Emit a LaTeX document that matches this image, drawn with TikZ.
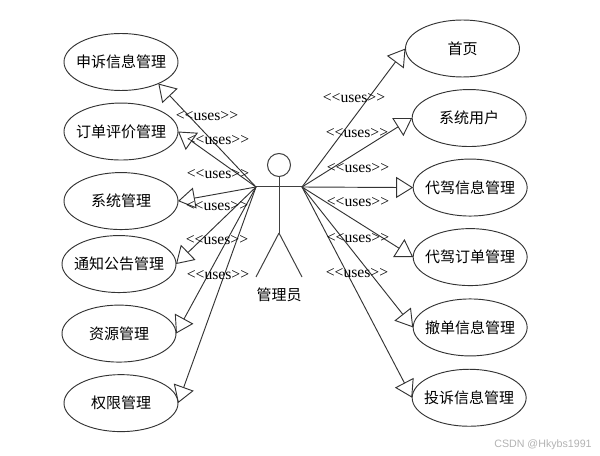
\documentclass[tikz,border=0pt]{standalone}
\usepackage{fontspec}
\newfontfamily\cjk{Noto Sans CJK SC}
\newfontfamily\stereofont{Liberation Serif}
\newfontfamily\markfont{Liberation Sans}
\usetikzlibrary{shapes.geometric, arrows.meta, positioning}
\newcommand{\casetext}[1]{\makebox[0pt]{#1}}
\tikzset{
    usecase/.style={draw=black!80, ellipse, line width=0.7pt, inner sep=0pt, outer sep=0pt, minimum width=85.5pt, minimum height=42.75pt, font=\cjk\fontsize{11.25}{13}\selectfont},
    actorline/.style={draw=black!75, line width=0.75pt},
    arrow/.style={-{Triangle[open, length=12.75pt, width=15.75pt]}, draw=black!80, line width=0.7pt},
    stereo/.style={font=\stereofont\fontsize{11.75}{13}\selectfont, inner sep=0pt},
    watermark/.style={font=\markfont\fontsize{8}{10}\selectfont, text=black!30, inner sep=0pt}
}

\begin{document}
\begin{tikzpicture}[x=0.75pt, y=-0.75pt, node distance=9.4pt]
    \useasboundingbox (0,0) rectangle (600,456);

    % left column
    \node (appeal) [usecase] at (121,62) {\casetext{申诉信息管理}};
    \node (review) [usecase, below=of appeal] {\casetext{订单评价管理}};
    \node (sysmgr) [usecase, below=of review] {\casetext{系统管理}};
    \node (notice) [usecase, below=4.5pt of sysmgr, xshift=-1.5pt] {\casetext{通知公告管理}};
    \node (resource) [usecase, below=of notice] {\casetext{资源管理}};
    \node (rights) [usecase, below=of resource, xshift=1.5pt] {\casetext{权限管理}};

    % right column
    \node (home) [usecase] at (462.5,48.5) {\casetext{首页}};
    \node (sysuser) [usecase, below=of home, xshift=5pt] {\casetext{系统用户}};
    \node (driveinfo) [usecase, below=of sysuser, xshift=0.75pt] {\casetext{代驾信息管理}};
    \node (driveorder) [usecase, below=of driveinfo] {\casetext{代驾订单管理}};
    \node (cancel) [usecase, below=10pt of driveorder] {\casetext{撤单信息管理}};
    \node (complaint) [usecase, below=10pt of cancel, xshift=-0.75pt] {\casetext{投诉信息管理}};

    % actor
    \node (head) [circle, actorline, minimum size=17.25pt, inner sep=0pt, outer sep=0pt] at (279,165) {};
    \coordinate (armL) at (256,187);
    \coordinate (armR) at (302,187);
    \coordinate (hip) at (279,233);
    \coordinate (footL) at (256,277);
    \coordinate (footR) at (302,277);
    \node (actor) [font=\cjk\fontsize{11.25}{13}\selectfont, inner sep=0pt] at (279,295) {管理员};

    \draw [actorline] (armL) -- (armR);
    \draw [actorline] (head) -- (hip);
    \draw [actorline] (hip) -- (footL);
    \draw [actorline] (hip) -- (footR);

    \draw [arrow] (armL) -- (appeal.-30);
    \draw [arrow] (armL) -- (review.east);
    \draw [arrow] (armL) -- (sysmgr.east);
    \draw [arrow] (armL) -- (notice.east);
    \draw [arrow] (armL) -- (resource.east);
    \draw [arrow] (armL) -- (rights.east);

    \draw [arrow] (armR) -- (home.west);
    \draw [arrow] (armR) -- (sysuser.west);
    \draw [arrow] (armR) -- (driveinfo.west);
    \draw [arrow] (armR) -- (driveorder.west);
    \draw [arrow] (armR) -- (cancel.west);
    \draw [arrow] (armR) -- (complaint.west);

    % stereotype labels
    \node (uses1) [stereo] at (207,116) {<<uses>>};
    \node (uses2) [stereo] at (218,140) {<<uses>>};
    \node (uses3) [stereo] at (218,174) {<<uses>>};
    \node (uses4) [stereo] at (217,206.5) {<<uses>>};
    \node (uses5) [stereo] at (217,240) {<<uses>>};
    \node (uses6) [stereo] at (218,275) {<<uses>>};
    \node (uses7) [stereo] at (354,98) {<<uses>>};
    \node (uses8) [stereo] at (357,133) {<<uses>>};
    \node (uses9) [stereo] at (358,168) {<<uses>>};
    \node (uses10) [stereo] at (358,202) {<<uses>>};
    \node (uses11) [stereo] at (358,238) {<<uses>>};
    \node (uses12) [stereo] at (357,273) {<<uses>>};

    \node (csdn) [watermark] at (543,445) {CSDN @Hkybs1991};
\end{tikzpicture}
\end{document}
